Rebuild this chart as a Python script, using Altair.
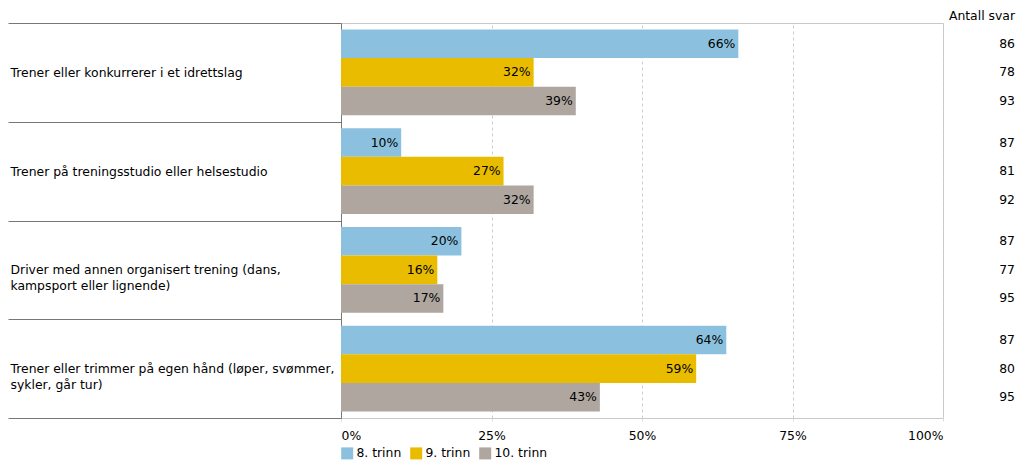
import altair as alt
import pandas as pd

categories = [
    "Trener eller konkurrerer i et idrettslag",
    "Trener på treningsstudio eller helsestudio",
    "Driver med annen organisert trening (dans,|kampsport eller lignende)",
    "Trener eller trimmer på egen hånd (løper, svømmer,|sykler, går tur)",
]
grades = ["8. trinn", "9. trinn", "10. trinn"]
pct_8 = [66, 10, 20, 64]
pct_9 = [32, 27, 16, 59]
pct_10 = [39, 32, 17, 43]
n_8 = [86, 87, 87, 87]
n_9 = [78, 81, 77, 80]
n_10 = [93, 92, 95, 95]
colors = ["#8bc1de", "#e9bc00", "#aea69f"]
x_ticks = [0, 0.25, 0.5, 0.75, 1.0]
count_header = "Antall svar"

rows = []
for g, pv, nv in zip(grades, [pct_8, pct_9, pct_10], [n_8, n_9, n_10]):
    for c, p, n in zip(categories, pv, nv):
        rows.append({"category": c, "grade": g, "pct": p / 100, "n": n})
df = pd.DataFrame(rows)

FONT = "DejaVu Sans"
FS = 12.4
W, H = 602, 395
RIGHT = 72

base = alt.Chart(df).encode(
    y=alt.Y(
        "category:N",
        sort=categories,
        scale=alt.Scale(paddingInner=0, paddingOuter=0),
        axis=alt.Axis(
            title=None,
            domain=True,
            domainColor="#777777",
            ticks=True,
            tickBand="extent",
            tickSize=333,
            tickColor="#777777",
            labelAlign="left",
            labelPadding=-2,
            labelLimit=400,
            labelFontSize=FS,
            labelColor="black",
            labelLineHeight=16,
            labelExpr="split(datum.label, '|')",
            grid=False,
        ),
    ),
    yOffset=alt.YOffset(
        "grade:N",
        sort=grades,
        scale=alt.Scale(paddingInner=0, paddingOuter=0.23),
    ),
)

bars = base.mark_bar().encode(
    x=alt.X(
        "pct:Q",
        scale=alt.Scale(domain=[0, 1]),
        axis=alt.Axis(
            title=None,
            values=x_ticks,
            format=".0%",
            labelFlush=True,
            labelFontSize=FS,
            labelColor="black",
            labelPadding=8,
            domain=False,
            ticks=True,
            tickSize=3,
            tickColor="#dddddd",
            grid=True,
            gridColor="#cccccc",
            gridDash=[3, 3],
        ),
    ),
    color=alt.Color(
        "grade:N",
        sort=grades,
        scale=alt.Scale(domain=grades, range=colors),
        legend=alt.Legend(
            title=None,
            orient="none",
            direction="horizontal",
            legendX=0,
            legendY=424,
            symbolType="square",
            symbolSize=144,
            symbolStrokeWidth=0,
            labelFontSize=FS,
            labelColor="black",
            columnPadding=8,
            labelOffset=3,
        ),
    ),
)

labels = base.mark_text(align="right", dx=-3, fontSize=FS, color="black").encode(
    x="pct:Q",
    text=alt.Text("pct:Q", format=".0%"),
)

counts = base.mark_text(align="right", fontSize=FS, color="black").encode(
    x=alt.value(W + RIGHT),
    text="n:Q",
)

header = (
    alt.Chart(pd.DataFrame({"label": [count_header]}))
    .mark_text(align="right", baseline="alphabetic", fontSize=FS, color="black")
    .encode(x=alt.value(W + RIGHT), y=alt.value(-3), text="label:N")
)

chart = (
    alt.layer(bars, labels, counts, header)
    .properties(
        width=W,
        height=H,
        autosize=alt.AutoSizeParams(type="none"),
        padding={"left": 333, "top": 15, "right": RIGHT + 1, "bottom": 45},
    )
    .configure(font=FONT)
    .configure_view(stroke="#c8c8c8")
)

chart.save("out.html", embed_options={"renderer": "svg", "actions": False})
